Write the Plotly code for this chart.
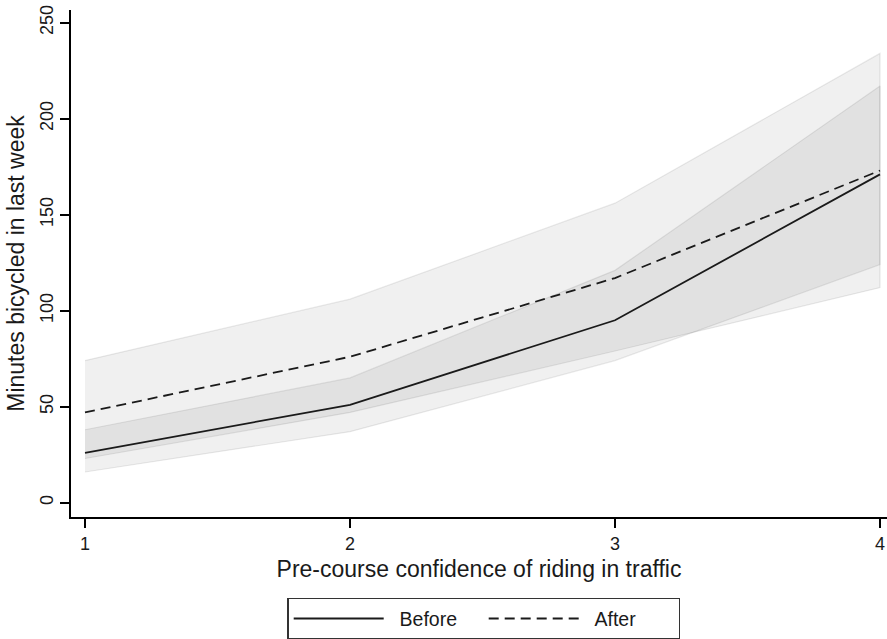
import plotly.graph_objects as go

confidence = [1, 2, 3, 4]
before_mean = [26, 51, 95, 171]
before_lo = [16, 37, 74, 124]
before_hi = [38, 65, 121, 217]
after_mean = [47, 76, 117, 173]
after_lo = [23, 47, 79, 112]
after_hi = [74, 106, 156, 234]

y_ticks = [0, 50, 100, 150, 200, 250]
x_ticks = [1, 2, 3, 4]

FONT = "Liberation Sans, Arial, sans-serif"

fig = go.Figure()

def band(lo, hi):
    return go.Scatter(
        x=confidence + confidence[::-1],
        y=hi + lo[::-1],
        fill="toself",
        fillcolor="rgba(0,0,0,0.058)",
        line=dict(color="rgba(0,0,0,0.085)", width=1.2),
        mode="lines",
        hoverinfo="skip",
        showlegend=False,
    )

fig.add_trace(band(after_lo, after_hi))
fig.add_trace(band(before_lo, before_hi))

fig.add_trace(go.Scatter(x=confidence, y=before_mean, mode="lines", name="\u00a0\u00a0Before",
                         line=dict(color="#1a1a1a", width=1.8)))
fig.add_trace(go.Scatter(x=confidence, y=after_mean, mode="lines", name="\u00a0\u00a0After",
                         line=dict(color="#1a1a1a", width=1.8, dash="10px,6px")))

fig.update_layout(
    width=887, height=639,
    margin=dict(l=71, r=0, t=10, b=122),
    paper_bgcolor="white", plot_bgcolor="white",
    font=dict(family=FONT, size=19.5, color="#1a1a1a"),
    showlegend=True,
    legend=dict(
        orientation="h", x=0.506, xref="paper", xanchor="center",
        y=2, yref="container", yanchor="bottom",
        bordercolor="#333333", borderwidth=1.3,
        font=dict(size=19.5), itemwidth=90,
        entrywidth=90, entrywidthmode="pixels",
        traceorder="normal",
    ),
)

fig.update_xaxes(
    range=[1 - 14/265, 4 + 7/265],
    tickvals=x_ticks, ticktext=[str(v) for v in x_ticks],
    tickfont=dict(size=18),
    showgrid=False, zeroline=False,
    showline=True, linecolor="black", linewidth=2,
    ticks="outside", ticklen=9, tickwidth=1.5, tickcolor="black",
    title=dict(text="Pre-course confidence of riding in traffic", standoff=8),
)
fig.update_yaxes(
    range=[-7.45, 256.6],
    tickvals=y_ticks, ticktext=[str(v) for v in y_ticks],
    tickangle=-90, tickfont=dict(size=18),
    showgrid=False, zeroline=False,
    showline=True, linecolor="black", linewidth=2,
    ticks="outside", ticklen=9, tickwidth=1.5, tickcolor="black",
    title=dict(text="Minutes bicycled in last week", standoff=6),
)

fig.write_html("out.html")
